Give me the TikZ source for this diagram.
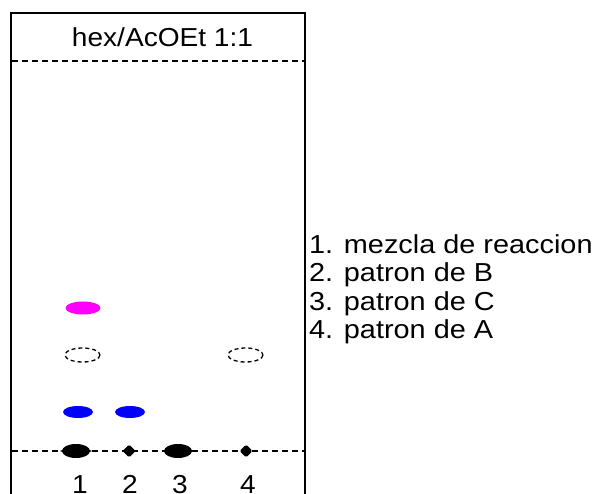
\documentclass[tikz,border=0pt]{standalone}
\usepackage{fontspec}
\setmainfont[FakeStretch=1.08]{Liberation Sans}
\newfontfamily\legendfont[FakeStretch=1.11]{Liberation Sans}
\definecolor{spotmagenta}{RGB}{255,0,255}
\definecolor{spotbluec}{RGB}{0,0,255}
\begin{document}
\begin{tikzpicture}[x=1pt,y=-1pt,
  plate/.style={line width=1.6pt},
  dashline/.style={line width=1.6pt,dash pattern=on 6pt off 4pt},
  lbl/.style={font=\fontsize{26}{30}\selectfont,inner sep=0pt},
  leg/.style={font=\legendfont\fontsize{26}{30}\selectfont,inner sep=0pt,anchor=base west},
  spotmag/.style={fill=spotmagenta},
  spotblue/.style={fill=spotbluec},
  spotblk/.style={fill=black},
  spotdash/.style={line width=1.3pt,dash pattern=on 4pt off 3pt}]
\useasboundingbox (0,0) rectangle (600,494);
% plate
\draw[plate] (11,494) -- (11,13) -- (305,13) -- (305,494);
\draw[dashline] (12,61) -- (304,61);
\draw[dashline] (12,451) -- (304,451);
\node[lbl,anchor=base] (title) at (162.5,47) {hex/AcOEt 1:1};
% spots
\fill[spotmag] (83,308) ellipse [x radius=17.5, y radius=6.5];
\draw[spotdash] (82.5,355) ellipse [x radius=17.5, y radius=7];
\draw[spotdash] (245.5,355) ellipse [x radius=17.5, y radius=7];
\fill[spotblue] (78,412) ellipse [x radius=15, y radius=6];
\fill[spotblue] (130,412) ellipse [x radius=15, y radius=6];
% baseline spots
\fill[spotblk] (76,451) ellipse [x radius=14, y radius=7];
\fill[spotblk] (60,451) -- (70,447) -- (70,455) -- cycle;
\fill[spotblk] (92,451) -- (82,447) -- (82,455) -- cycle;
\fill[spotblk] (178,451) ellipse [x radius=14, y radius=7];
\fill[spotblk] (162,451) -- (172,447) -- (172,455) -- cycle;
\fill[spotblk] (194,451) -- (184,447) -- (184,455) -- cycle;
\fill[spotblk,rounded corners=1.5pt] (129,444.5) -- (135.5,451) -- (129,457.5) -- (122.5,451) -- cycle;
\fill[spotblk,rounded corners=1.5pt] (246,444.5) -- (252.5,451) -- (246,457.5) -- (239.5,451) -- cycle;
% lane labels
\node[lbl,anchor=base] (l1) at (80,493) {1};
\node[lbl,anchor=base] (l2) at (130,493) {2};
\node[lbl,anchor=base] (l3) at (180,493) {3};
\node[lbl,anchor=base] (l4) at (248,493) {4};
% legend
\node[leg] (g1) at (309,253.5) {1. mezcla de reaccion};
\node[leg] (g2) at (309,282) {2. patron de B};
\node[leg] (g3) at (309,310.5) {3. patron de C};
\node[leg] (g4) at (309,339) {4. patron de A};
\end{tikzpicture}
\end{document}
